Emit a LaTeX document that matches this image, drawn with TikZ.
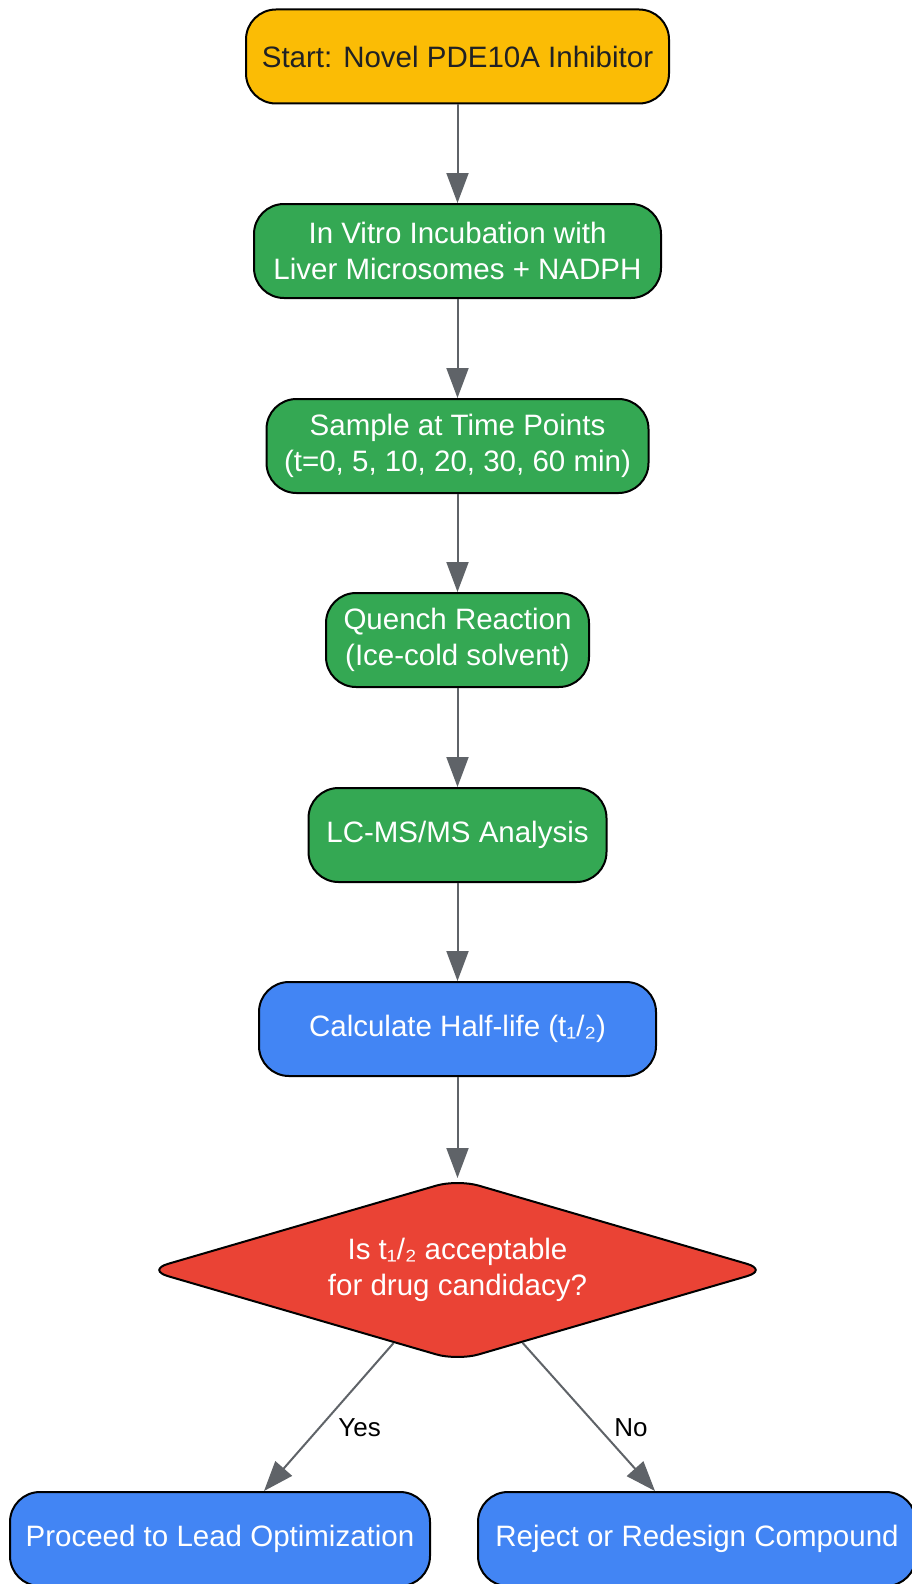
\documentclass[tikz,border=0pt]{standalone}
\usepackage{fontspec}
\setmainfont{Liberation Sans}
\usetikzlibrary{arrows.meta,shapes.geometric,calc}
\definecolor{cyellow}{HTML}{FBBC05}
\definecolor{cgreen}{HTML}{34A853}
\definecolor{cblue}{HTML}{4285F4}
\definecolor{cred}{HTML}{EA4335}
\definecolor{cgray}{HTML}{5F6368}
\definecolor{cdark}{HTML}{202124}
\begin{document}
\begin{tikzpicture}[x=1pt,y=-1pt,
  box/.style={draw=black, line width=2pt, rounded corners=30pt, inner sep=0pt,
    minimum height=94pt, align=center, text=white,
    font=\fontsize{29.5}{36.5}\selectfont},
  decision/.style={diamond, draw=black, line width=2pt, fill=cred, rounded corners=22pt,
    minimum width=622pt, minimum height=182pt, aspect=3.42, inner sep=0pt,
    align=center, text=white, font=\fontsize{29.5}{36.5}\selectfont},
  flow/.style={draw=cgray, line width=2pt, -{Triangle[length=30pt,width=22pt]}},
  lbl/.style={font=\fontsize{26}{30}\selectfont, text=black}]
\useasboundingbox (0,0) rectangle (911,1584);
\node[box, fill=cyellow, text=cdark, minimum width=423pt] (start) at (457.5,56.5) {Start: Novel PDE10A Inhibitor};
\node[box, fill=cgreen, minimum width=407pt] (incub) at (457.5,251) {In Vitro Incubation with\\Liver Microsomes + NADPH};
\node[box, fill=cgreen, minimum width=382pt] (sample) at (457.5,446) {Sample at Time Points\\(t=0, 5, 10, 20, 30, 60 min)};
\node[box, fill=cgreen, minimum width=263pt] (quench) at (457.5,640) {Quench Reaction\\(Ice-cold solvent)};
\node[box, fill=cgreen, minimum width=298pt] (lcms) at (457.5,835) {LC-MS/MS Analysis};
\node[box, fill=cblue, minimum width=397pt] (calc) at (457.5,1029) {Calculate Half-life (t₁/₂)};
\node[decision] (dec) at (457.5,1270) {Is t₁/₂ acceptable\\for drug candidacy?};
\node[box, fill=cblue, minimum width=420pt] (proc) at (220,1539) {Proceed to Lead Optimization};
\node[box, fill=cblue, minimum width=438pt] (rej) at (697,1539) {Reject or Redesign Compound};
\draw[flow] (start) -- (incub);
\draw[flow] (incub) -- (sample);
\draw[flow] (sample) -- (quench);
\draw[flow] (quench) -- (lcms);
\draw[flow] (lcms) -- (calc);
\draw[flow] (calc) -- (dec);
\draw[flow] (dec) -- ($(proc.north)+(44,0)$) node[lbl, pos=0.57, xshift=40pt] {Yes};
\draw[flow] (dec) -- ($(rej.north)+(-42,0)$) node[lbl, pos=0.57, xshift=33pt] {No};
\end{tikzpicture}
\end{document}
